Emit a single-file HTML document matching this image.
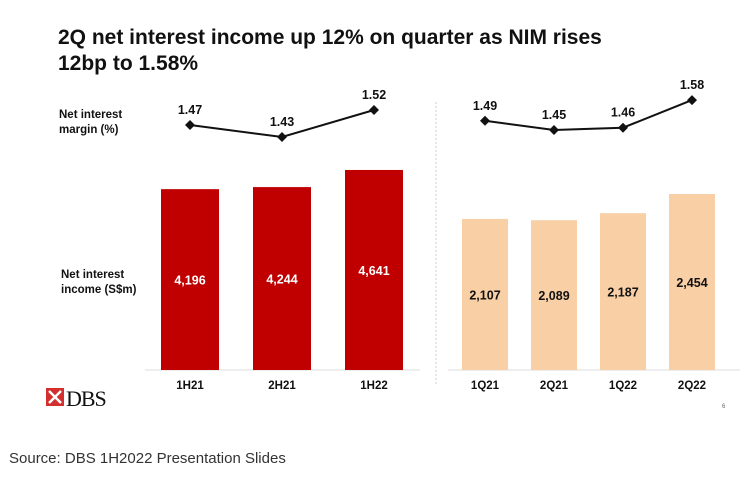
<!DOCTYPE html>
<html><head><meta charset="utf-8"><style>
body{margin:0;background:#fff;width:747px;height:475px;overflow:hidden;font-family:"Liberation Sans",Arial,sans-serif}
</style></head><body>
<svg width="747" height="475" id="c" font-family="Liberation Sans, Arial, sans-serif">
<text x="58" y="44" font-size="21" font-weight="bold" fill="#111">2Q net interest income up 12% on quarter as NIM rises</text>
<text x="58" y="70" font-size="21" font-weight="bold" fill="#111">12bp to 1.58%</text>
<text x="59" y="118" font-size="11.5" font-weight="bold" fill="#111">Net interest</text>
<text x="59" y="133" font-size="11.5" font-weight="bold" fill="#111">margin (%)</text>
<text x="61" y="278" font-size="11.5" font-weight="bold" fill="#111">Net interest</text>
<text x="61" y="293" font-size="11.5" font-weight="bold" fill="#111">income (S$m)</text>
<line x1="436" y1="102" x2="436" y2="385" stroke="#ccc" stroke-dasharray="2,2"/>
<line x1="145" y1="370" x2="420" y2="370" stroke="#ddd"/>
<line x1="448" y1="370" x2="740" y2="370" stroke="#ddd"/>
<g>
<rect x="46" y="388" width="18" height="18" fill="#d32f2f"/>
<path d="M49 391L61 403M61 391L49 403" stroke="#fff" stroke-width="2.5"/>
<text x="66" y="406" font-family="Liberation Serif, serif" font-size="22" fill="#111" letter-spacing="-1">DBS</text>
</g>
<text x="722" y="408" font-size="6" fill="#666">6</text>
<text x="9" y="463" font-size="15" fill="#333">Source: DBS 1H2022 Presentation Slides</text>
<g id="g"></g>
</svg>
<script>
const hCats=["1H21","2H21","1H22"];
const hNii=[4196,4244,4641];
const hNim=[1.47,1.43,1.52];
const qCats=["1Q21","2Q21","1Q22","2Q22"];
const qNii=[2107,2089,2187,2454];
const qNim=[1.49,1.45,1.46,1.58];
const NS="http://www.w3.org/2000/svg",g=document.getElementById('g');
function mk(t,a,txt){const e=document.createElementNS(NS,t);for(const k in a)e.setAttribute(k,a[k]);if(txt!==undefined)e.textContent=txt;g.appendChild(e);return e;}
function fmt(v){return v.toLocaleString('en-US');}
function panel(cats,nii,nim,x0,step,bw,sy,color,tcolor,nimBase,nimY,nimS,pre){
  const base=370;
  const pts=[];
  cats.forEach((c,i)=>{
    const cx=x0+i*step,h=nii[i]*sy;
    const r=mk('rect',{x:cx-bw/2,y:base-h,width:bw,height:h,fill:color});
    
    
    const t=mk('text',{x:cx,y:base-h/2+5,'font-size':12.5,'font-weight':'bold',fill:tcolor,'text-anchor':'middle'},fmt(nii[i]));
    
    
    const cl=mk('text',{x:cx,y:389,'font-size':11.5,'font-weight':'bold',fill:'#111','text-anchor':'middle'},c);
    
    
    pts.push([cx,nimY-(nim[i]-nimBase)*nimS]);
  });
  const pl=mk('polyline',{points:pts.map(p=>p.join(',')).join(' '),fill:'none',stroke:'#111','stroke-width':2});
  
  
  pts.forEach((p,i)=>{
    const d=mk('path',{d:`M${p[0]} ${p[1]-5}L${p[0]+5} ${p[1]}L${p[0]} ${p[1]+5}L${p[0]-5} ${p[1]}Z`,fill:'#111'});
    
    
    const t=mk('text',{x:p[0],y:p[1]-11,'font-size':12.5,'font-weight':'bold',fill:'#111','text-anchor':'middle'},nim[i].toFixed(2));
    
    
  });
}
panel(hCats,hNii,hNim,190,92,58,0.0431,'#c00000','#fff',1.47,125,300,'half');
panel(qCats,qNii,qNim,485,69,46,0.0717,'#f9cfa5','#111',1.45,130,230,'quarter');
</script>
</body></html>
